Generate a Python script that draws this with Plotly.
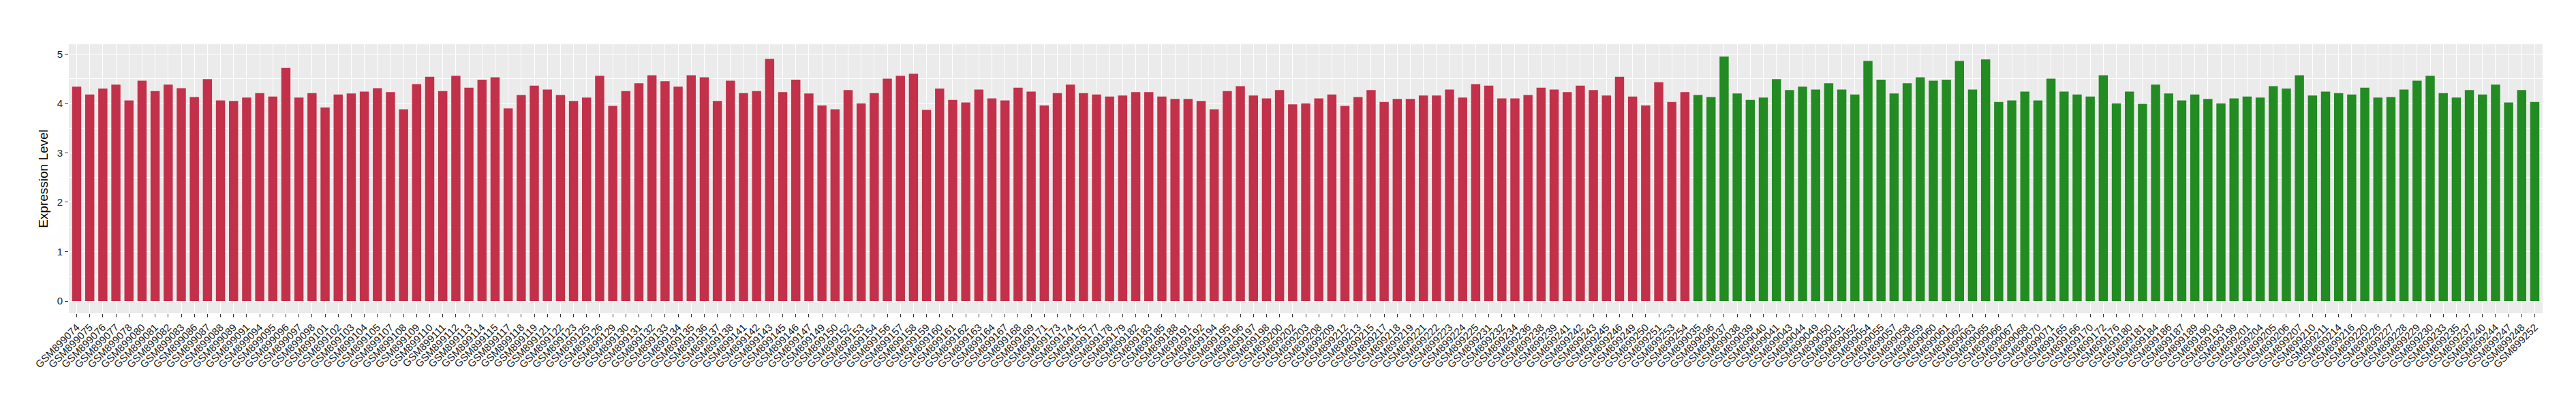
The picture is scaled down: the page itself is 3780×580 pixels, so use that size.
import plotly.graph_objs as go

#################################### DATOS #############################################
# Muestras grupo 1 (rojo)
muestras_rojo = [
    '074', '075', '076', '077', '078', '080', '081', '082', '083', '086',
    '087', '088', '089', '091', '094', '095', '096', '097', '098', '101',
    '102', '103', '104', '105', '107', '108', '109', '110', '111', '112',
    '113', '114', '115', '117', '118', '119', '121', '122', '123', '125',
    '126', '129', '130', '131', '132', '133', '134', '135', '136', '137',
    '138', '141', '142', '143', '145', '146', '147', '149', '150', '152',
    '153', '154', '156', '157', '158', '159', '160', '161', '162', '163',
    '164', '167', '168', '169', '171', '173', '174', '175', '177', '178',
    '179', '182', '183', '185', '188', '191', '192', '194', '195', '196',
    '197', '198', '200', '202', '203', '208', '209', '212', '213', '215',
    '217', '218', '219', '221', '222', '223', '224', '225', '231', '232',
    '234', '236', '238', '239', '241', '242', '243', '245', '246', '249',
    '250', '251', '253', '254',
]
valores_rojo = [
    4.34, 4.18, 4.30, 4.38, 4.06, 4.46, 4.25, 4.38, 4.31, 4.13,
    4.49, 4.06, 4.05, 4.12, 4.21, 4.14, 4.72, 4.12, 4.21, 3.92,
    4.18, 4.20, 4.24, 4.31, 4.23, 3.88, 4.39, 4.54, 4.25, 4.56,
    4.32, 4.48, 4.53, 3.90, 4.17, 4.36, 4.28, 4.17, 4.05, 4.12,
    4.56, 3.95, 4.25, 4.41, 4.57, 4.45, 4.34, 4.57, 4.53, 4.05,
    4.46, 4.21, 4.25, 4.90, 4.23, 4.48, 4.20, 3.96, 3.88, 4.27,
    4.00, 4.21, 4.50, 4.56, 4.60, 3.87, 4.30, 4.07, 4.02, 4.28,
    4.10, 4.06, 4.32, 4.24, 3.96, 4.21, 4.38, 4.21, 4.18, 4.14,
    4.16, 4.23, 4.23, 4.14, 4.09, 4.09, 4.05, 3.88, 4.25, 4.35,
    4.16, 4.10, 4.27, 3.98, 4.00, 4.10, 4.18, 3.95, 4.13, 4.27,
    4.03, 4.09, 4.09, 4.16, 4.16, 4.28, 4.12, 4.39, 4.36, 4.10,
    4.10, 4.17, 4.32, 4.28, 4.23, 4.36, 4.27, 4.16, 4.54, 4.14,
    3.96, 4.43, 4.03, 4.23,
]

# Muestras grupo 2 (verde)
muestras_verde = [
    '035', '036', '037', '038', '039', '040', '041', '043', '044', '049',
    '050', '051', '052', '054', '055', '057', '058', '059', '060', '061',
    '062', '063', '065', '066', '067', '068', '070', '071', '165', '166',
    '170', '172', '176', '180', '181', '184', '186', '187', '189', '190',
    '193', '199', '201', '204', '205', '206', '207', '210', '211', '214',
    '216', '220', '226', '227', '228', '229', '230', '233', '235', '237',
    '240', '244', '247', '248', '252',
]
valores_verde = [
    4.17, 4.13, 4.95, 4.20, 4.07, 4.12, 4.49, 4.27, 4.34, 4.28,
    4.41, 4.28, 4.18, 4.86, 4.48, 4.20, 4.41, 4.53, 4.46, 4.48,
    4.86, 4.28, 4.89, 4.03, 4.06, 4.24, 4.06, 4.50, 4.24, 4.18,
    4.14, 4.57, 4.00, 4.24, 3.99, 4.38, 4.20, 4.06, 4.18, 4.09,
    4.00, 4.10, 4.14, 4.12, 4.35, 4.30, 4.57, 4.16, 4.24, 4.21,
    4.18, 4.32, 4.12, 4.13, 4.28, 4.46, 4.56, 4.21, 4.12, 4.27,
    4.18, 4.38, 4.02, 4.27, 4.03,
]

rojo = '#C3304A'
verde = '#228B22'

#################################### FIGURA #############################################
etiquetas = ['GSM899' + m for m in muestras_rojo] + ['GSM899' + m for m in muestras_verde]
valores = valores_rojo + valores_verde
colores = [rojo] * len(muestras_rojo) + [verde] * len(muestras_verde)

fig = go.Figure(go.Bar(
    x=etiquetas,
    y=valores,
    marker=dict(color=colores, line=dict(width=0)),
    width=0.7,
    showlegend=False,
))

maximo = max(valores)

fig.update_layout(
    width=3780,
    height=580,
    plot_bgcolor='#EBEBEB',
    paper_bgcolor='#fff',
    margin=dict(l=93, r=57, t=57, b=128, pad=0),
    font=dict(family='Liberation Sans, Arial, sans-serif', size=15, color='#1a1a1a'),
    xaxis=dict(
        type='category',
        range=[-0.6, len(etiquetas) - 0.4],
        tickangle=-45,
        tickfont=dict(size=15, color='#1a1a1a'),
        ticks='outside', ticklen=5, tickcolor='#333333', tickwidth=1,
        showgrid=True, gridcolor='white', gridwidth=1.4,
        showline=False, zeroline=False,
    ),
    yaxis=dict(
        title=dict(text='Expression Level', font=dict(size=19, color='black'), standoff=8),
        range=[-0.05 * maximo, 1.05 * maximo],
        tickvals=[0, 1, 2, 3, 4, 5],
        tickfont=dict(size=15, color='#1a1a1a'),
        ticks='outside', ticklen=5, tickcolor='#333333', tickwidth=1,
        showgrid=True, gridcolor='white', gridwidth=1.4,
        minor=dict(dtick=0.5, showgrid=True, gridcolor='white', gridwidth=0.6),
        showline=False, zeroline=False,
    ),
)

fig.write_html('out.html')
